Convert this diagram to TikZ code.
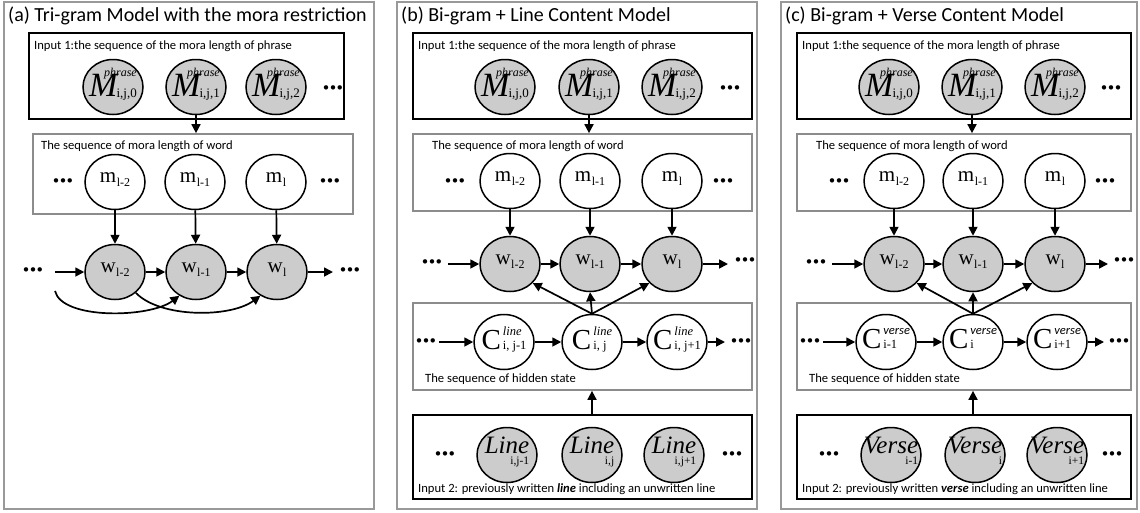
\documentclass[tikz,border=0pt]{standalone}
\usepackage{fontspec}
\setmainfont{Carlito}
\newfontfamily\nf{Liberation Serif}
\newfontfamily\djv{DejaVu Sans}
\usetikzlibrary{shapes.geometric,arrows.meta,fit}
\newcommand\zb[1]{\makebox[0pt]{\smash{$\vcenter{\hbox{#1}}$}}}
\newcommand\fs[1]{\fontsize{#1}{#1}\selectfont}
\newcommand\dts{{\djv\bfseries\fs{12.5}•\kern-1pt•\kern-1pt•}}
\newcommand\Mlab[1]{\zb{\nf\fs{10}\begin{tabular}{@{}r@{}}\fs{12}\itshape phrase\\[-5pt]\fs{34}\itshape M\kern-1pt\raisebox{-1pt}{\fs{13}\upshape #1}\end{tabular}}}
\newcommand\mlab[2]{\zb{\nf\fs{21}#1\kern0.5pt\raisebox{-4pt}{\fs{12}#2}}}
\newcommand\Clab[2]{\zb{\nf{\fs{29}C}\kern2pt\fs{10}\begin{tabular}[b]{@{}l@{}}#1\\[3pt]\fs{12.5}\upshape #2\end{tabular}}}
\newcommand\Llab[2]{\zb{\nf\fs{10}\begin{tabular}{@{}r@{}}\fs{25}\itshape #1\\[0pt]\fs{11.5}\upshape #2\end{tabular}}}
\newcommand\lsup{\fs{12.5}\itshape line}
\newcommand\vsup{\fs{12.5}\rmfamily\itshape verse}
\begin{document}
\begin{tikzpicture}[x=1pt,y=-1pt,
  obs/.style={ellipse,draw=black,line width=1.5pt,fill=black!20,minimum width=60pt,minimum height=55pt,inner sep=0pt},
  hid/.style={obs,fill=white},
  arr/.style={-{Triangle[length=9pt,width=9pt]},line width=1.7pt},
  outerbox/.style={draw=black!40,line width=1.6pt,inner sep=0pt},
  inbox/.style={draw=black,line width=1.9pt,inner sep=0pt},
  grpbox/.style={draw=black!45,line width=1.7pt,inner sep=0pt},
  title/.style={anchor=west,inner sep=0pt,font=\fs{20}},
  boxlab/.style={anchor=west,inner sep=0pt,font=\fs{12.6}},
  dotsn/.style={inner sep=0pt}]
\useasboundingbox (0,0) rectangle (1140,512);
\fill[white] (0,0) rectangle (1140,512);

% ================= Panel (a) =================
\node[outerbox,fit={(4,2)(374,509)}] (OUTa) {};
\node[title] (Ta) at (8,16) {(a) Tri-gram Model with the mora restriction};
\node[inbox,fit={(29,33)(344,119)}] (INa) {};
\node[boxlab] (INaL) at (34,46) {Input 1:the sequence of the mora length of phrase};
\node[obs] (Ma0) at (113,87) {\Mlab{i,j,0}};
\node[obs] (Ma1) at (196,87) {\Mlab{i,j,1}};
\node[obs] (Ma2) at (276,87) {\Mlab{i,j,2}};
\node[dotsn] (Da1) at (333,89) {\dts};
\node[grpbox,fit={(33,134)(353,214)}] (MBa) {};
\node[boxlab] (MBaL) at (41,146) {The sequence of mora length of word};
\node[hid] (ma0) at (115,182) {\mlab{m}{l-2}};
\node[hid] (ma1) at (195,182) {\mlab{m}{l-1}};
\node[hid] (ma2) at (276,182) {\mlab{m}{l}};
\node[dotsn] (Da2) at (63,182) {\dts};
\node[dotsn] (Da3) at (330,182) {\dts};
\node[obs] (wa0) at (115,272) {\mlab{w}{l-2}};
\node[obs] (wa1) at (196,272) {\mlab{w}{l-1}};
\node[obs] (wa2) at (277,272) {\mlab{w}{l}};
\node[dotsn] (Da4) at (33,271) {\dts};
\node[dotsn] (Da5) at (350,271) {\dts};
\coordinate (ina) at (55,272);
\coordinate (outa) at (333,272);
\coordinate (cura) at (55,291);
\draw[arr] (Ma1.south) -- (Ma1.south |- MBa.north);
\draw[arr] (ma0) -- (wa0);
\draw[arr] (ma1) -- (wa1);
\draw[arr] (ma2) -- (wa2);
\draw[arr] (ina) -- (wa0);
\draw[arr] (wa0) -- (wa1);
\draw[arr] (wa1) -- (wa2);
\draw[arr] (wa2) -- (outa);
\draw[arr] (cura) .. controls (62,320) and (150,318) .. (wa1.235);
\draw[arr] (wa0.-45) .. controls (160,318) and (230,318) .. (wa2.235);

% ================= Panel (b) =================
\node[outerbox,fit={(397,2)(757,509)}] (OUTb) {};
\node[title] (Tb) at (401,16) {(b) Bi-gram + Line Content Model};
\node[inbox,fit={(413,33)(752,119)}] (INb) {};
\node[boxlab] (INbL) at (418,46) {Input 1:the sequence of the mora length of phrase};
\node[obs] (Mb0) at (505,87) {\Mlab{i,j,0}};
\node[obs] (Mb1) at (589,87) {\Mlab{i,j,1}};
\node[obs] (Mb2) at (672,87) {\Mlab{i,j,2}};
\node[dotsn] (Db1) at (730,89) {\dts};
\node[grpbox,fit={(413,134)(752,211)}] (MBb) {};
\node[boxlab] (MBbL) at (432,146) {The sequence of mora length of word};
\node[hid] (mb0) at (510,181) {\mlab{m}{l-2}};
\node[hid] (mb1) at (590,181) {\mlab{m}{l-1}};
\node[hid] (mb2) at (672,181) {\mlab{m}{l}};
\node[dotsn] (Db2) at (455,182) {\dts};
\node[dotsn] (Db3) at (723,182) {\dts};
\node[obs] (wb0) at (510,264) {\mlab{w}{l-2}};
\node[obs] (wb1) at (590,264) {\mlab{w}{l-1}};
\node[obs] (wb2) at (672,264) {\mlab{w}{l}};
\node[dotsn] (Db4) at (432,263) {\dts};
\node[dotsn] (Db5) at (745,261) {\dts};
\coordinate (inb) at (448,264);
\coordinate (outb) at (728,264);
\node[grpbox,fit={(413,303)(752,390)}] (HBb) {};
\node[boxlab] (HBbL) at (425,379) {The sequence of hidden state};
\node[hid] (Cb0) at (504,342) {\Clab{\lsup}{i, j-1}};
\node[hid] (Cb1) at (592,342) {\Clab{\lsup}{i, j}};
\node[hid] (Cb2) at (677,342) {\Clab{\lsup}{i, j+1}};
\node[dotsn] (Db6) at (426,342) {\dts};
\node[dotsn] (Db7) at (741,342) {\dts};
\coordinate (incb) at (439,342);
\coordinate (outcb) at (725,342);
\node[inbox,fit={(413,415)(752,499)}] (IN2b) {};
\node[obs] (Lb0) at (507,455) {\Llab{Line}{i,j-1}};
\node[obs] (Lb1) at (592,455) {\Llab{Line}{i,j}};
\node[obs] (Lb2) at (674,455) {\Llab{Line}{i,j+1}};
\node[dotsn] (Db8) at (445,455) {\dts};
\node[dotsn] (Db9) at (732,455) {\dts};
\node[boxlab] (IN2bL) at (418,489) {Input 2: previously written \textbf{\textit{line}} including an unwritten line};
\draw[arr] (Mb1.south) -- (Mb1.south |- MBb.north);
\draw[arr] (mb0) -- (wb0);
\draw[arr] (mb1) -- (wb1);
\draw[arr] (mb2) -- (wb2);
\draw[arr] (inb) -- (wb0);
\draw[arr] (wb0) -- (wb1);
\draw[arr] (wb1) -- (wb2);
\draw[arr] (wb2) -- (outb);
\draw[arr] (Cb1.north) -- (wb0.-40);
\draw[arr] (Cb1.north) -- (wb1.south);
\draw[arr] (Cb1.north) -- (wb2.-140);
\draw[arr] (incb) -- (Cb0);
\draw[arr] (Cb0) -- (Cb1);
\draw[arr] (Cb1) -- (Cb2);
\draw[arr] (Cb2) -- (outcb);
\draw[arr] (IN2b.north -| Cb1) -- (HBb.south -| Cb1);

% ================= Panel (c) =================
\node[outerbox,fit={(781,2)(1137,509)}] (OUTc) {};
\node[title] (Tc) at (785,16) {(c) Bi-gram + Verse Content Model};
\node[inbox,fit={(797,33)(1131,119)}] (INc) {};
\node[boxlab] (INcL) at (802,46) {Input 1:the sequence of the mora length of phrase};
\node[obs] (Mc0) at (889,87) {\Mlab{i,j,0}};
\node[obs] (Mc1) at (972,87) {\Mlab{i,j,1}};
\node[obs] (Mc2) at (1055,87) {\Mlab{i,j,2}};
\node[dotsn] (Dc1) at (1111,89) {\dts};
\node[grpbox,fit={(797,134)(1131,211)}] (MBc) {};
\node[boxlab] (MBcL) at (816,146) {The sequence of mora length of word};
\node[hid] (mc0) at (894,181) {\mlab{m}{l-2}};
\node[hid] (mc1) at (973,181) {\mlab{m}{l-1}};
\node[hid] (mc2) at (1055,181) {\mlab{m}{l}};
\node[dotsn] (Dc2) at (839,182) {\dts};
\node[dotsn] (Dc3) at (1105,182) {\dts};
\node[obs] (wc0) at (894,264) {\mlab{w}{l-2}};
\node[obs] (wc1) at (973,264) {\mlab{w}{l-1}};
\node[obs] (wc2) at (1055,264) {\mlab{w}{l}};
\node[dotsn] (Dc4) at (816,263) {\dts};
\node[dotsn] (Dc5) at (1124,261) {\dts};
\coordinate (inc) at (832,264);
\coordinate (outc) at (1108,264);
\node[grpbox,fit={(797,303)(1131,390)}] (HBc) {};
\node[boxlab] (HBcL) at (809,379) {The sequence of hidden state};
\node[hid] (Cc0) at (886,342) {\Clab{\vsup}{i-1}};
\node[hid] (Cc1) at (973,342) {\Clab{\vsup}{i}};
\node[hid] (Cc2) at (1057,342) {\Clab{\vsup}{i+1}};
\node[dotsn] (Dc6) at (810,342) {\dts};
\node[dotsn] (Dc7) at (1119,342) {\dts};
\coordinate (incc) at (823,342);
\coordinate (outcc) at (1104,342);
\node[inbox,fit={(797,415)(1131,499)}] (IN2c) {};
\node[obs] (Lc0) at (891,455) {\Llab{Verse}{i-1}};
\node[obs] (Lc1) at (975,455) {\Llab{Verse}{i}};
\node[obs] (Lc2) at (1057,455) {\Llab{Verse}{i+1}};
\node[dotsn] (Dc8) at (829,455) {\dts};
\node[dotsn] (Dc9) at (1112,455) {\dts};
\node[boxlab] (IN2cL) at (802,489) {Input 2: previously written \textbf{\textit{verse}} including an unwritten line};
\draw[arr] (Mc1.south) -- (Mc1.south |- MBc.north);
\draw[arr] (mc0) -- (wc0);
\draw[arr] (mc1) -- (wc1);
\draw[arr] (mc2) -- (wc2);
\draw[arr] (inc) -- (wc0);
\draw[arr] (wc0) -- (wc1);
\draw[arr] (wc1) -- (wc2);
\draw[arr] (wc2) -- (outc);
\draw[arr] (Cc1.north) -- (wc0.-40);
\draw[arr] (Cc1.north) -- (wc1.south);
\draw[arr] (Cc1.north) -- (wc2.-140);
\draw[arr] (incc) -- (Cc0);
\draw[arr] (Cc0) -- (Cc1);
\draw[arr] (Cc1) -- (Cc2);
\draw[arr] (Cc2) -- (outcc);
\draw[arr] (IN2c.north -| Cc1) -- (HBc.south -| Cc1);
\end{tikzpicture}
\end{document}
